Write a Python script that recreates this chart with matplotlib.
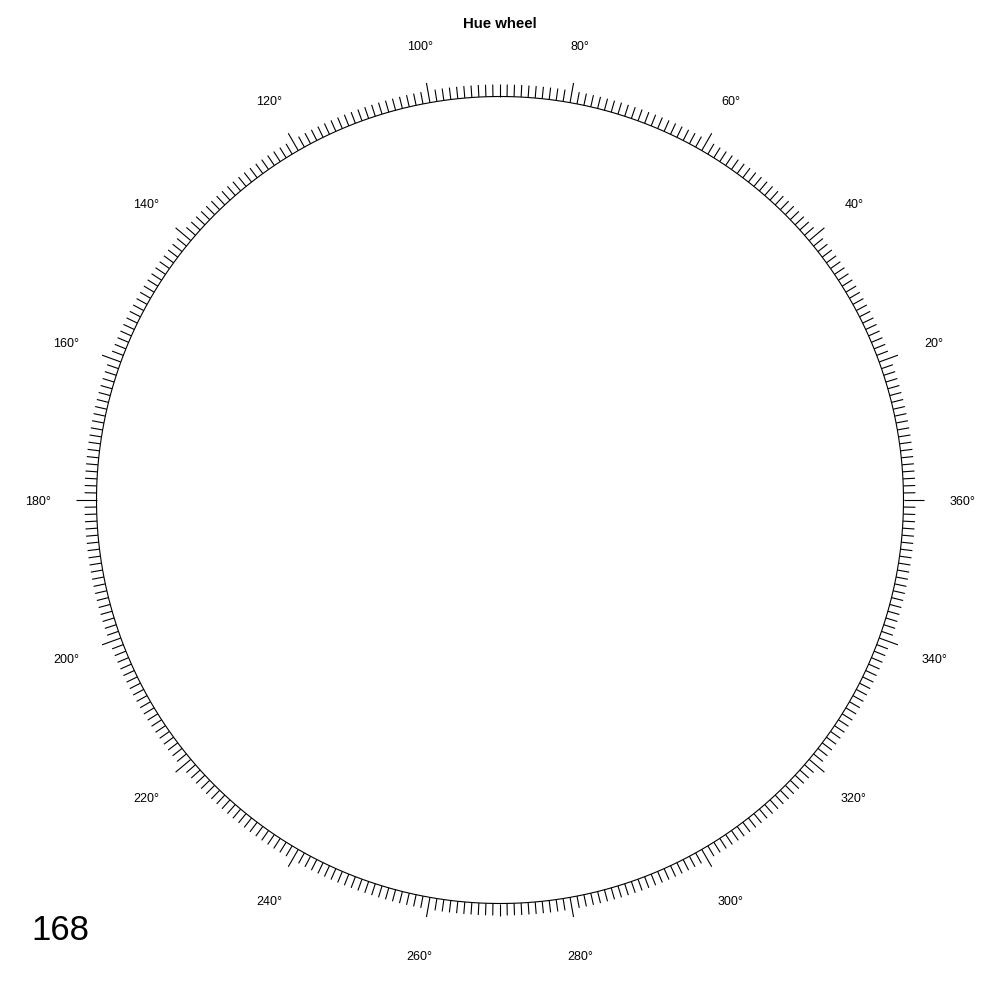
import numpy as np
import matplotlib
matplotlib.use("Agg")
import matplotlib.pyplot as plt

plt.rcParams['font.family'] = ['Liberation Sans', 'DejaVu Sans']

title = "Hue wheel"
corner_label = "168"
tick_step_deg = 1
major_angles = list(range(20, 361, 20))
major_labels = [f"{a}°" for a in major_angles]

fig = plt.figure(figsize=(10, 10), dpi=100)
ax = fig.add_axes([0, 0, 1, 1])
cx_px, cy_px, r_px = 500, 500, 403.5
ax.set_xlim((0 - cx_px) / r_px, (1000 - cx_px) / r_px)
ax.set_ylim((cy_px - 1000) / r_px, cy_px / r_px)
ax.set_aspect('equal')
ax.axis('off')

# circle
t = np.linspace(0, 2 * np.pi, 1441)
ax.plot(np.cos(t), np.sin(t), color='black', lw=0.8)

minor_len = 12 / r_px
major_len = 20 / r_px
for a in range(0, 360, tick_step_deg):
    th = np.deg2rad(a)
    L = major_len if a % 20 == 0 else minor_len
    ax.plot([np.cos(th), (1 + L) * np.cos(th)], [np.sin(th), (1 + L) * np.sin(th)],
            color='black', lw=0.8, solid_capstyle='butt')

lab_r = 462 / r_px
dy_lab = -2 / r_px
for a, lab in zip(major_angles, major_labels):
    th = np.deg2rad(a)
    ax.text(lab_r * np.cos(th), lab_r * np.sin(th) + dy_lab, lab, ha='center',
            va='center', fontsize=9)

fig.text(0.5, 1 - 23.5 / 1000, title, ha='center', va='center', fontsize=10.8,
         fontweight='bold')
fig.text(0.031, 0.060, corner_label, ha='left', va='baseline', fontsize=25)

fig.savefig("out.png", dpi=100)
